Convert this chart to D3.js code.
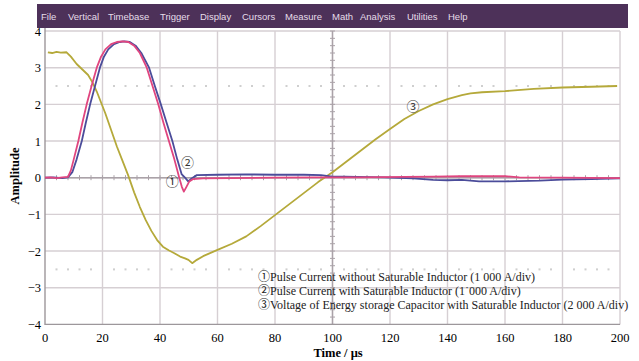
<!DOCTYPE html>
<html lang="en">

<head>
    <meta charset="utf-8">
    <title>pulse current scope</title>
    <script src="https://cdn.jsdelivr.net/npm/d3@7"></script>
    <style>
        body {
            margin: 0;
            background: #fff;
        }
    </style>
</head>

<body>
    <script>
        // oscilloscope menu
        var menuItems = ['File', 'Vertical', 'Timebase', 'Trigger', 'Display', 'Cursors', 'Measure', 'Math', 'Analysis', 'Utilities', 'Help'];
        var menuX = [41, 68, 108, 160, 200, 242, 285, 332, 360, 407, 448];

        var xTicks = [0, 20, 40, 60, 80, 100, 120, 140, 160, 180, 200];
        var yTicks = [-4, -3, -2, -1, 0, 1, 2, 3, 4];

        // [time us, amplitude]
        var pink = [[0, 0], [2, 0.01], [4, -0.01], [6, 0.01], [8, 0.02], [9, 0.2], [10, 0.5], [11.6, 1.0], [13, 1.5],
        [14.5, 2.0], [16.2, 2.5], [18, 3.0], [19.5, 3.3], [21, 3.5], [23, 3.64], [25, 3.7], [27, 3.72], [29, 3.7],
        [31, 3.6], [33, 3.4], [35.4, 3.0], [37.4, 2.5], [39.4, 2.0], [41.2, 1.5], [43.1, 1.0], [45, 0.5], [46.7, 0.0],
        [47.6, -0.25], [48.3, -0.38], [49.2, -0.25], [50.2, -0.1], [51.4, -0.04], [55, -0.02], [65, -0.01], [80, 0.0],
        [95, 0.01], [110, 0.01], [125, 0.02], [135, 0.03], [145, 0.04], [160, 0.04], [165, 0.01], [180, 0.0], [200, -0.01]];

        var blue = [[0, 0], [3, 0.01], [6, -0.01], [8, 0.01], [9.5, 0.15], [11, 0.5], [12.8, 1.0], [14.2, 1.5], [15.7, 2.0],
        [17.4, 2.5], [19.1, 3.0], [20.5, 3.3], [22, 3.5], [24, 3.64], [26, 3.7], [27.5, 3.72], [29.5, 3.7], [31.5, 3.6],
        [33.5, 3.4], [36.2, 3.0], [38.2, 2.5], [40.3, 2.0], [42.3, 1.5], [44.3, 1.0], [46, 0.5], [47.5, 0.1], [48.7, 0.0],
        [49.8, -0.1], [51, -0.02], [52.8, 0.07], [60, 0.08], [70, 0.09], [80, 0.08], [90, 0.08], [96, 0.07], [100, 0.03],
        [104, 0.03], [118, 0.01], [128, -0.02], [135, -0.06], [140, -0.07], [145, -0.06], [151, -0.1], [160, -0.1],
        [172, -0.08], [180, -0.05], [190, -0.04], [200, -0.02]];

        var yellow = [[1, 3.42], [2.5, 3.4], [4, 3.43], [5.5, 3.41], [7.5, 3.42], [9, 3.3], [11, 3.1], [13, 2.95], [15, 2.8],
        [16.5, 2.6], [18, 2.35], [19.5, 2.05], [21, 1.75], [23, 1.3], [25, 0.85], [27, 0.45], [29, 0.05], [31, -0.4],
        [33, -0.8], [35, -1.15], [37, -1.45], [39, -1.7], [41, -1.88], [43, -1.98], [45, -2.06], [47, -2.15], [48.7, -2.2],
        [49.9, -2.24], [51.2, -2.33], [52.8, -2.24], [55, -2.14], [57, -2.07], [60, -1.97], [65, -1.8], [70, -1.6],
        [75, -1.32], [80, -1.02], [85, -0.72], [90, -0.42], [95, -0.12], [100, 0.15], [105, 0.45], [110, 0.75],
        [115, 1.05], [120, 1.33], [125, 1.6], [130, 1.82], [135, 2.0], [140, 2.14], [145, 2.25], [148, 2.3], [152, 2.33],
        [160, 2.36], [170, 2.42], [180, 2.46], [190, 2.48], [199, 2.5]];

        var legendLines = ['\u2460Pulse Current without Saturable Inductor (1 000 A/div)',
            '\u2461Pulse Current with Saturable Inductor (1\u02D9000 A/div)',
            '\u2462Voltage of Energy storage Capacitor with Saturable Inductor (2 000 A/div)'];

        var svgWidth = 639, svgHeight = 361;
        var serif = '"Liberation Serif", "Times New Roman", "Noto Sans CJK SC", serif';
        var svg = d3.select('body')
            .append('svg')
            .attr('width', svgWidth)
            .attr('height', svgHeight);

        var x = d3.scaleLinear().domain([0, 200]).range([45, 620]);
        var y = d3.scaleLinear().domain([-4, 4]).range([324.4, 31]);

        function drawGrid() {
            var g = svg.append('g');
            g.selectAll('.vg')
                .data(xTicks.slice(1))
                .enter().append('line')
                .attr('x1', d => x(d)).attr('x2', d => x(d))
                .attr('y1', y(4)).attr('y2', y(-4))
                .style('stroke', '#d6cfd3').style('stroke-width', 1.4);
            g.selectAll('.hg')
                .data(yTicks.slice(1))
                .enter().append('line')
                .attr('x1', x(0)).attr('x2', x(200))
                .attr('y1', d => y(d)).attr('y2', d => y(d))
                .style('stroke', '#d6cfd3').style('stroke-width', 1.4);

            // dotted rows at +-2.5
            var dots = [];
            d3.range(0, 200, 20).forEach(s => [4, 8, 12, 16].forEach(o => dots.push(s + o)));
            [2.5, -2.5].forEach(v => {
                g.selectAll(null)
                    .data(dots)
                    .enter().append('rect')
                    .attr('x', d => x(d) - 1).attr('y', y(v) - 1)
                    .attr('width', 2).attr('height', 2)
                    .style('fill', '#cfcfcf');
            });

            // centre axes with minor ticks
            g.append('line')
                .attr('x1', x(0)).attr('x2', x(200))
                .attr('y1', y(0)).attr('y2', y(0))
                .style('stroke', '#aaa2a8').style('stroke-width', 1.4);
            g.append('line')
                .attr('x1', x(100)).attr('x2', x(100))
                .attr('y1', y(4)).attr('y2', y(-4))
                .style('stroke', '#aaa2a8').style('stroke-width', 1.4);
            g.selectAll('.xm')
                .data(d3.range(4, 200, 4))
                .enter().append('line')
                .attr('x1', d => x(d)).attr('x2', d => x(d))
                .attr('y1', y(0) - 2.5).attr('y2', y(0) + 2.5)
                .style('stroke', '#aaa2a8');
            g.selectAll('.ym')
                .data(d3.range(-40, 41, 2).map(d => d / 10))
                .enter().append('line')
                .attr('x1', x(100) - 2.5).attr('x2', x(100) + 2.5)
                .attr('y1', d => y(d)).attr('y2', d => y(d))
                .style('stroke', '#aaa2a8');

            // frame left and bottom
            g.append('path')
                .attr('d', `M${x(0)},${y(4) - 3}V${y(-4)}H${x(200)}`)
                .style('fill', 'none')
                .style('stroke', '#9d979b').style('stroke-width', 1.4);
        }

        function drawTraces() {
            var line = d3.line().x(d => x(d[0])).y(d => y(d[1]));
            [[yellow, '#b5a93a'], [blue, '#4b4c9a'], [pink, '#e0457f']].forEach(e => {
                svg.append('path')
                    .attr('d', line(e[0]))
                    .style('fill', 'none')
                    .style('stroke', e[1])
                    .style('stroke-width', 1.8)
                    .style('stroke-linejoin', 'round');
            });
        }

        function drawMenu() {
            svg.append('rect')
                .attr('x', 37).attr('y', 4)
                .attr('width', 591).attr('height', 24)
                .style('fill', '#4d3159');
            svg.append('g')
                .selectAll('text')
                .data(menuItems)
                .enter().append('text')
                .attr('x', (d, i) => menuX[i])
                .attr('y', 19.5)
                .style('font-family', '"Liberation Sans", Arial, sans-serif')
                .style('font-size', '9.5px')
                .style('fill', '#e6dde9')
                .text(d => d);
        }

        function drawAxes() {
            svg.append('g')
                .selectAll('text')
                .data(xTicks)
                .enter().append('text')
                .attr('x', d => x(d))
                .attr('y', 342)
                .attr('text-anchor', 'middle')
                .style('font-family', serif)
                .style('font-size', '12.5px')
                .text(d => d);
            svg.append('g')
                .selectAll('text')
                .data(yTicks)
                .enter().append('text')
                .attr('x', 41)
                .attr('y', d => y(d) + 4.5)
                .attr('text-anchor', 'end')
                .style('font-family', serif)
                .style('font-size', '12.5px')
                .text(d => d < 0 ? '\u2212' + Math.abs(d) : d);
            svg.append('text')
                .attr('x', 338).attr('y', 357)
                .attr('text-anchor', 'middle')
                .style('font-family', serif)
                .style('font-size', '12.5px')
                .style('font-weight', 'bold')
                .text('Time / \u03BCs');
            svg.append('text')
                .attr('transform', 'translate(19,176) rotate(-90)')
                .attr('text-anchor', 'middle')
                .style('font-family', serif)
                .style('font-size', '12.5px')
                .style('font-weight', 'bold')
                .text('Amplitude');
        }

        function drawLabels() {
            var marks = [['\u2460', 44.3, -0.1], ['\u2461', 49.6, 0.42], ['\u2462', 128, 1.93]];
            svg.append('g')
                .selectAll('text')
                .data(marks)
                .enter().append('text')
                .attr('x', d => x(d[1]))
                .attr('y', d => y(d[2]) + 4.5)
                .attr('text-anchor', 'middle')
                .style('font-family', serif)
                .style('font-size', '13px')
                .style('fill', '#333')
                .text(d => d[0]);
            svg.append('g')
                .selectAll('text')
                .data(legendLines)
                .enter().append('text')
                .attr('x', 258)
                .attr('y', (d, i) => 281 + i * 14)
                .style('font-family', serif)
                .style('font-size', '12px')
                .style('fill', '#222')
                .text(d => d);
        }

        drawGrid();
        drawTraces();
        drawMenu();
        drawAxes();
        drawLabels();
    </script>
</body>

</html>
